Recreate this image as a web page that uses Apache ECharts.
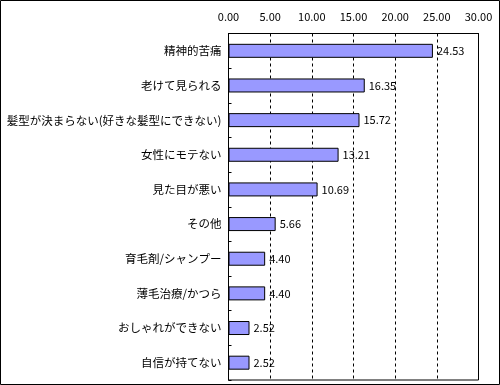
<!DOCTYPE html>
<html><head><meta charset="utf-8">
<script src="https://cdn.jsdelivr.net/npm/echarts@6/dist/echarts.min.js"></script>
<style>html,body{margin:0;padding:0;background:#fff}#c{width:500px;height:385px}</style>
</head><body><div id="c"></div>
<script>
const categories = ['精神的苦痛','老けて見られる','髪型が決まらない(好きな髪型にできない)','女性にモテない','見た目が悪い','その他','育毛剤/シャンプー','薄毛治療/かつら','おしゃれができない','自信が持てない'];
const values = [24.53, 16.35, 15.72, 13.21, 10.69, 5.66, 4.40, 4.40, 2.52, 2.52];
const xMin = 0, xMax = 30, xStep = 5;

const font = '"Noto Sans CJK JP", "Noto Sans", sans-serif';
const chart = echarts.init(document.getElementById('c'), null, {renderer: 'canvas'});
chart.setOption({
  animation: false,
  backgroundColor: '#fff',
  graphic: [{type: 'rect', shape: {x: 0.5, y: 0.5, width: 499, height: 384}, style: {fill: 'none', stroke: '#000', lineWidth: 1}, silent: true}],
  grid: {left: 228.5, top: 33.5, width: 250, height: 346.5, show: true, borderColor: '#000', borderWidth: 1, backgroundColor: 'transparent'},
  xAxis: {
    type: 'value', position: 'top', min: xMin, max: xMax, interval: xStep,
    axisLine: {show: true, lineStyle: {color: '#000'}},
    axisTick: {show: false},
    axisLabel: {color: '#000', fontSize: 11, fontFamily: font, margin: 11, formatter: v => v.toFixed(2)},
    splitLine: {show: true, lineStyle: {color: '#000', type: [3, 3], width: 1}}
  },
  yAxis: {
    type: 'category', inverse: true, data: categories,
    axisLine: {show: true, lineStyle: {color: '#000'}},
    axisTick: {show: true, inside: true, length: 3, lineStyle: {color: '#000'}},
    axisLabel: {color: '#000', fontSize: 11.5, fontFamily: font, margin: 7}
  },
  series: [{
    type: 'bar', data: values, barWidth: 14,
    itemStyle: {color: '#9999FF', borderColor: '#000', borderWidth: 1},
    label: {show: true, position: 'right', distance: 4, color: '#000', fontSize: 11, fontFamily: font, formatter: p => p.value.toFixed(2)}
  }]
});
</script></body></html>
